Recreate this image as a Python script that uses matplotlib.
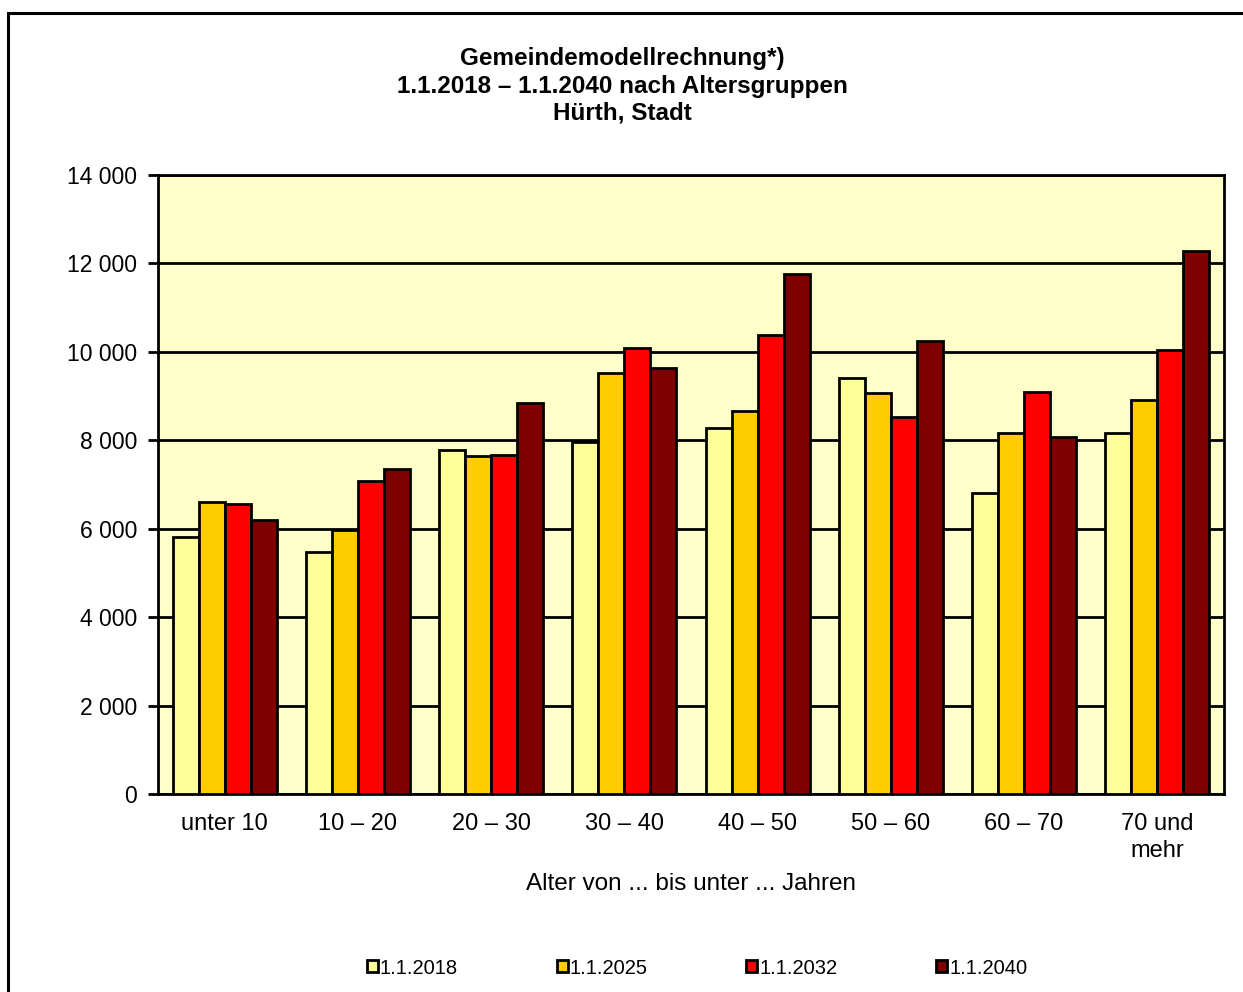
import matplotlib
matplotlib.use('Agg')
import matplotlib.pyplot as plt
import numpy as np
from matplotlib.patches import Rectangle

plt.rcParams['font.family'] = ['Liberation Sans', 'DejaVu Sans']

categories = ['unter 10', '10 – 20', '20 – 30', '30 – 40', '40 – 50', '50 – 60', '60 – 70', '70 und\nmehr']
series = ['1.1.2018', '1.1.2025', '1.1.2032', '1.1.2040']
v2018 = [5810, 5480, 7770, 7960, 8270, 9420, 6810, 8160]
v2025 = [6600, 5970, 7650, 9530, 8670, 9070, 8170, 8900]
v2032 = [6560, 7080, 7670, 10080, 10370, 8520, 9090, 10040]
v2040 = [6200, 7340, 8840, 9630, 11760, 10250, 8070, 12270]
colors = ['#FFFF99', '#FFCC00', '#FF0000', '#800000']

fig = plt.figure(figsize=(12.43, 9.92), dpi=100)
ax = fig.add_axes([158 / 1243, 1 - 794 / 992, (1224 - 158) / 1243, (794 - 175) / 992])
ax.set_facecolor('#FFFFCC')

x = np.arange(len(categories))
w = 0.195
for i, vals in enumerate([v2018, v2025, v2032, v2040]):
    ax.bar(x + (i - 1.5) * w, vals, w, color=colors[i], edgecolor='black',
           linewidth=2.0, label=series[i], zorder=3)

ax.set_xlim(-0.5, len(categories) - 0.5)
ax.set_ylim(0, 14000)
ax.set_yticks(range(0, 14001, 2000))
ax.set_yticklabels([f'{v:,}'.replace(',', ' ') for v in range(0, 14001, 2000)])
ax.yaxis.grid(True, color='black', linewidth=2.0, zorder=1)
ax.set_axisbelow(True)
ax.set_xticks(x)
ax.set_xticklabels(categories, linespacing=1.25)
ax.tick_params(axis='x', length=0, labelsize=17, pad=14)
ax.tick_params(axis='y', length=7, width=2.0, labelsize=16.5, pad=8)
for s in ax.spines.values():
    s.set_linewidth(2.0)
ax.set_xlabel('Alter von ... bis unter ... Jahren', fontsize=17.5, labelpad=8)

fig.text(0.501, 1 - 86 / 992,
         'Gemeindemodellrechnung*)\n1.1.2018 – 1.1.2040 nach Altersgruppen\nHürth, Stadt',
         ha='center', va='center', fontsize=17.5, fontweight='bold', linespacing=1.24)

leg = fig.legend(loc='center', bbox_to_anchor=(697 / 1243, 1 - 968 / 992), ncol=4,
                 frameon=False, fontsize=14.5, handlelength=0.55, handleheight=0.55,
                 handletextpad=0.1, columnspacing=4.9)

fig.patches.append(Rectangle((8 / 1243, -0.1), 1.2, 1 - 13 / 992 + 0.1, transform=fig.transFigure,
                             fill=False, edgecolor='black', linewidth=2.2))

fig.savefig('out.png', dpi=100)
